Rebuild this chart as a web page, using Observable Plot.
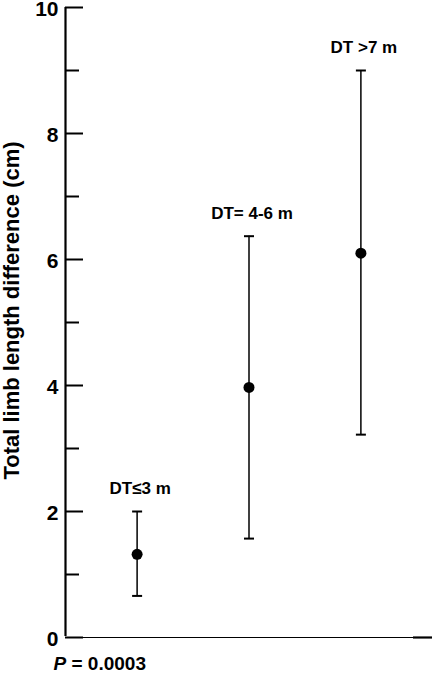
<!DOCTYPE html>
<html>
<head>
<meta charset="utf-8">
<script src="https://cdn.jsdelivr.net/npm/d3@7"></script>
<script src="https://cdn.jsdelivr.net/npm/@observablehq/plot@0.6"></script>
<style>
  html, body { margin: 0; padding: 0; background: #fff; }
  svg { display: block; }
</style>
</head>
<body>
<div id="chart"></div>
<script>
const groups = ["DT≤3 m", "DT= 4-6 m", "DT >7 m"];
const positions = [1, 2, 3];
const means = [1.32, 3.97, 6.10];
const lowers = [0.66, 1.57, 3.22];
const uppers = [2.0, 6.37, 9.0];
const majorTicks = [0, 2, 4, 6, 8, 10];
const minorTicks = [1, 3, 5, 7, 9];
const yLabel = "Total limb length difference (cm)";
const pLabel = "P";
const pValue = "= 0.0003";

const xDomain = [0.36, 3.64];
const data = groups.map((g, i) => ({group: g, x: positions[i], mean: means[i], lo: lowers[i], hi: uppers[i]}));
const font = "'Liberation Sans', Arial, Helvetica, sans-serif";

const capSymbol = {
  draw(ctx, size) {
    const r = Math.sqrt(size / Math.PI);
    ctx.moveTo(-r, 0);
    ctx.lineTo(r, 0);
  }
};

const chart = Plot.plot({
  width: 433,
  height: 673,
  marginLeft: 65,
  marginRight: 1,
  marginTop: 7,
  marginBottom: 36,
  style: {fontFamily: font, background: "#fff", color: "#000"},
  x: {domain: xDomain, axis: null},
  y: {domain: [0, 10], axis: null},
  marks: [
    // bottom baseline
    Plot.ruleY([0], {stroke: "#000", strokeWidth: 1.2}),
    Plot.tickY([0], {stroke: "#000", strokeWidth: 2.2, insetLeft: 348}),
    // y axis line
    Plot.ruleX([xDomain[0]], {y1: 0, y2: 10, stroke: "#000", strokeWidth: 2.2, insetTop: -1}),
    // inward ticks
    Plot.tickY(majorTicks, {y: d => d, stroke: "#000", strokeWidth: 2, insetRight: 349}),
    Plot.tickY(minorTicks, {y: d => d, stroke: "#000", strokeWidth: 2, insetRight: 353}),
    // tick labels
    Plot.text(majorTicks, {x: () => xDomain[0], y: d => d, text: d => String(d), textAnchor: "end", dx: -7, dy: 2, fontSize: 21, fontWeight: "bold", fill: "#000"}),
    // y label
    Plot.text([yLabel], {frameAnchor: "left", text: d => d, rotate: -90, textAnchor: "middle", dx: -54, dy: -12, fontSize: 22, fontWeight: "bold", fill: "#000"}),
    // error bars
    Plot.ruleX(data, {x: "x", y1: "lo", y2: "hi", stroke: "#000", strokeWidth: 1.5}),
    Plot.dot(data, {x: "x", y: "hi", symbol: capSymbol, r: 5, stroke: "#000", strokeWidth: 2, fill: "none"}),
    Plot.dot(data, {x: "x", y: "lo", symbol: capSymbol, r: 5, stroke: "#000", strokeWidth: 2, fill: "none"}),
    Plot.dot(data, {x: "x", y: "mean", r: 5.5, fill: "#000", stroke: "none"}),
    // group labels
    Plot.text(data, {x: "x", y: "hi", text: "group", dy: -23, dx: 3, fontSize: 17, fontWeight: "bold", fill: "#000"}),
    // P value
    Plot.text([pLabel], {frameAnchor: "bottom-left", text: d => d, textAnchor: "start", dx: -12, dy: 32, fontSize: 19, fontWeight: "bold", fontStyle: "italic", fill: "#000"}),
    Plot.text([pValue], {frameAnchor: "bottom-left", text: d => d, textAnchor: "start", dx: 6, dy: 32, fontSize: 19, fontWeight: "bold", fill: "#000"})
  ]
});
document.getElementById("chart").appendChild(chart);
</script>
</body>
</html>
